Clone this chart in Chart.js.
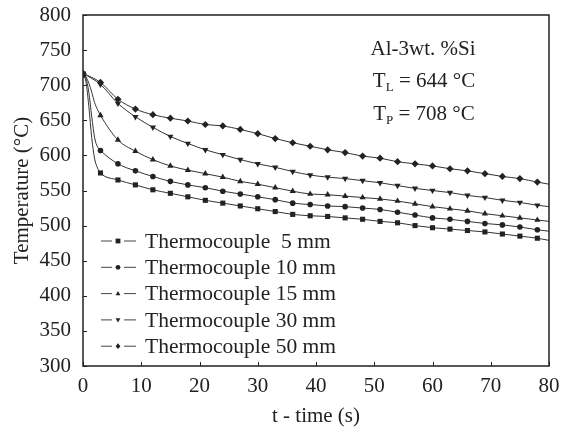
<!DOCTYPE html>
<html>
<head>
<meta charset="utf-8">
<script src="https://cdn.jsdelivr.net/npm/chart.js@4.4.0/dist/chart.umd.min.js"></script>
<style>
  html, body { margin: 0; padding: 0; background: #fff; }
</style>
</head>
<body>
<canvas id="coolingChart" width="563" height="432"></canvas>
<script>
// time of each plotted marker (s)
const markerTimes = [0, 3, 6, 9, 12, 15, 18, 21, 24, 27, 30, 33, 36, 39, 42, 45, 48, 51, 54, 57, 60, 63, 66, 69, 72, 75, 78];

// temperatures at the markers (°C)
const tc5  = [715, 575, 565, 558, 551, 546, 541, 536, 532, 528, 524, 520, 516, 514, 513, 511, 509, 506, 504, 500, 497, 495, 493, 491, 488, 485, 482];
const tc10 = [715, 607, 588, 578, 570, 563, 558, 554, 549, 545, 541, 537, 532, 530, 528, 527, 525, 523, 519, 515, 511, 509, 506, 503, 501, 498, 494];
const tc15 = [715, 657, 622, 606, 594, 585, 579, 574, 569, 563, 559, 554, 549, 545, 544, 542, 540, 538, 535, 531, 527, 524, 521, 517, 514, 511, 508];
const tc30 = [717, 701, 674, 655, 640, 627, 617, 608, 601, 594, 588, 583, 577, 572, 569, 567, 564, 561, 557, 553, 550, 547, 543, 540, 536, 533, 529];
const tc50 = [717, 704, 680, 666, 658, 653, 649, 644, 642, 637, 631, 624, 618, 613, 608, 604, 599, 596, 591, 588, 585, 581, 578, 574, 570, 567, 562];

// extra curve points without markers (first seconds and line end)
const earlyTimes = [0.5, 1, 1.5, 2, 2.5];
const early5  = [705, 670, 625, 595, 582];
const early10 = [710, 690, 655, 625, 612];
const early15 = [712, 703, 690, 675, 665];
const endTime = 80;
const endValues = [479, 492, 506, 527, 559];

const seriesLabels = ['Thermocouple  5 mm', 'Thermocouple 10 mm', 'Thermocouple 15 mm', 'Thermocouple 30 mm', 'Thermocouple 50 mm'];
const xTicks = [0, 10, 20, 30, 40, 50, 60, 70, 80];
const yTicks = [300, 350, 400, 450, 500, 550, 600, 650, 700, 750, 800];

const FONT = "'Liberation Serif', 'Times New Roman', serif";
const INK = '#222';

function buildPoints(values, extraT, extraV, endV) {
    const pts = markerTimes.map((t, i) => ({ x: t, y: values[i], m: true }));
    extraT.forEach((t, i) => pts.push({ x: t, y: extraV[i], m: false }));
    pts.push({ x: endTime, y: endV, m: false });
    return pts.sort((a, b) => a.x - b.x);
}

const styles = [
    { pointStyle: 'rect', radius: 3.6, rotation: 0 },
    { pointStyle: 'circle', radius: 2.8, rotation: 0 },
    { pointStyle: 'triangle', radius: 3.6, rotation: 0 },
    { pointStyle: 'triangle', radius: 3.6, rotation: 180 },
    { pointStyle: 'rectRot', radius: 3.6, rotation: 0 },
];

const allValues = [tc5, tc10, tc15, tc30, tc50];
const allEarly = [early5, early10, early15, [], []];

const datasets = allValues.map((vals, i) => ({
    label: seriesLabels[i],
    data: buildPoints(vals, allEarly[i].length ? earlyTimes : [], allEarly[i], endValues[i]),
    borderColor: '#333',
    backgroundColor: INK,
    borderWidth: 1,
    pointStyle: styles[i].pointStyle,
    pointRotation: styles[i].rotation,
    pointRadius: ctx => (ctx.raw && ctx.raw.m ? styles[i].radius : 0),
    pointBorderWidth: 0,
    pointBackgroundColor: INK,
    cubicInterpolationMode: 'monotone',
    fill: false,
}));

function drawMark(ctx, style, x, y, r) {
    ctx.beginPath();
    if (style === 0) {
        ctx.rect(x - r, y - r, 2 * r, 2 * r);
    } else if (style === 1) {
        ctx.arc(x, y, r, 0, Math.PI * 2);
    } else if (style === 2) {
        ctx.moveTo(x, y - r * 1.1); ctx.lineTo(x + r, y + r * 0.7); ctx.lineTo(x - r, y + r * 0.7);
    } else if (style === 3) {
        ctx.moveTo(x, y + r * 1.1); ctx.lineTo(x + r, y - r * 0.7); ctx.lineTo(x - r, y - r * 0.7);
    } else {
        ctx.moveTo(x, y - r * 1.2); ctx.lineTo(x + r, y); ctx.lineTo(x, y + r * 1.2); ctx.lineTo(x - r, y);
    }
    ctx.closePath();
    ctx.fill();
}

function subText(ctx, main, sub, rest, cx, cy) {
    ctx.font = '21px ' + FONT;
    const w1 = ctx.measureText(main).width;
    const w3 = ctx.measureText(rest).width;
    ctx.font = '13px ' + FONT;
    const w2 = ctx.measureText(sub).width;
    let x = cx - (w1 + w2 + w3) / 2;
    ctx.textAlign = 'left';
    ctx.font = '21px ' + FONT;
    ctx.fillText(main, x, cy);
    x += w1;
    ctx.font = '13px ' + FONT;
    ctx.fillText(sub, x, cy + 7);
    x += w2;
    ctx.font = '21px ' + FONT;
    ctx.fillText(rest, x, cy);
}

const frameAndNotes = {
    id: 'frameAndNotes',
    afterDatasetsDraw(chart) {
        const { ctx, chartArea: a, scales: { x, y } } = chart;
        ctx.save();
        ctx.strokeStyle = INK;
        ctx.lineWidth = 1.5;
        ctx.strokeRect(a.left, a.top, a.right - a.left, a.bottom - a.top);

        // small inward ticks
        ctx.lineWidth = 1;
        yTicks.forEach(v => {
            const py = Math.round(y.getPixelForValue(v)) + 0.5;
            ctx.beginPath(); ctx.moveTo(a.left, py); ctx.lineTo(a.left + 4, py); ctx.stroke();
        });
        xTicks.forEach(v => {
            const px = Math.round(x.getPixelForValue(v)) + 0.5;
            ctx.beginPath(); ctx.moveTo(px, a.bottom); ctx.lineTo(px, a.bottom - 4); ctx.stroke();
        });

        // legend inside the plot
        ctx.fillStyle = INK;
        ctx.textBaseline = 'middle';
        ctx.textAlign = 'left';
        ctx.font = '21.5px ' + FONT;
        chart.data.datasets.forEach((ds, i) => {
            const ly = 241 + i * 26.3;
            ctx.strokeStyle = '#444';
            ctx.lineWidth = 1;
            ctx.beginPath();
            ctx.moveTo(101, ly); ctx.lineTo(112, ly);
            ctx.moveTo(124, ly); ctx.lineTo(136, ly);
            ctx.stroke();
            drawMark(ctx, i, 118, ly, 2.4);
            ctx.fillText(ds.label, 145, ly + 1);
        });

        // alloy notes
        ctx.font = '21px ' + FONT;
        ctx.textAlign = 'center';
        ctx.fillText('Al-3wt. %Si', 423, 49);
        subText(ctx, 'T', 'L', ' = 644 \u00B0C', 424, 81);
        subText(ctx, 'T', 'P', ' = 708 \u00B0C', 424, 114);
        ctx.restore();
    }
};

new Chart(document.getElementById('coolingChart'), {
    type: 'line',
    data: { datasets: datasets },
    options: {
        responsive: false,
        animation: false,
        devicePixelRatio: 1,
        layout: { padding: { top: 15, right: 14, left: 0, bottom: 0 } },
        plugins: { legend: { display: false }, tooltip: { enabled: false } },
        scales: {
            x: {
                type: 'linear',
                min: 0,
                max: 80,
                afterBuildTicks: s => { s.ticks = xTicks.map(v => ({ value: v })); },
                afterFit: s => { s.height = 66; s.paddingLeft = 0; s.paddingRight = 0; },
                grid: { display: false },
                border: { display: false },
                ticks: { color: INK, font: { family: FONT, size: 21 }, padding: 0, maxRotation: 0 },
                title: { display: true, text: 't - time (s)', color: INK, font: { family: FONT, size: 21 }, padding: { top: 0, bottom: 3 } },
            },
            y: {
                min: 300,
                max: 800,
                afterBuildTicks: s => { s.ticks = yTicks.map(v => ({ value: v })); },
                afterFit: s => { s.width = 83; s.paddingTop = 0; s.paddingBottom = 0; },
                grid: { display: false },
                border: { display: false },
                ticks: { color: INK, font: { family: FONT, size: 21 }, padding: 4 },
                title: { display: true, text: 'Temperature (\u00B0C)', color: INK, font: { family: FONT, size: 21 }, padding: { top: 10, bottom: 0 } },
            },
        },
    },
    plugins: [frameAndNotes],
});
</script>
</body>
</html>
